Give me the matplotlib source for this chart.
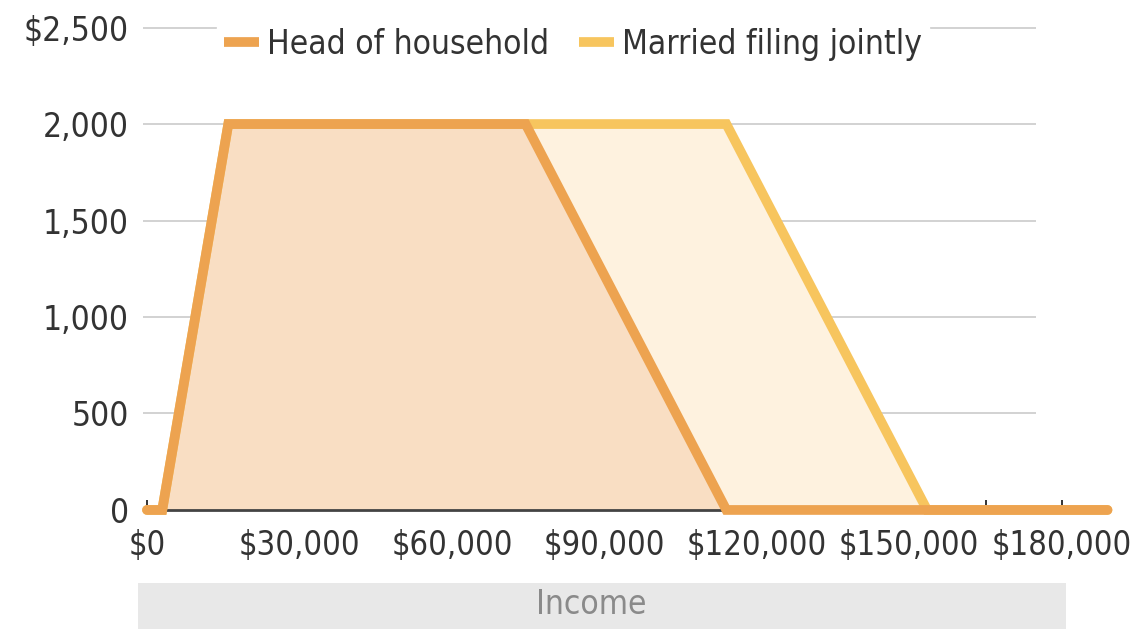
import matplotlib
matplotlib.use('Agg')
import matplotlib.pyplot as plt
from matplotlib.patches import Rectangle

plt.rcParams['font.family'] = ['DejaVu Sans']
plt.rcParams['font.stretch'] = 'condensed'

# data
income_hoh = [0, 3000, 16000, 74500, 114000, 189000]
credit_hoh = [0, 0, 2000, 2000, 0, 0]
income_mfj = [0, 3000, 16000, 114000, 153500, 189000]
credit_mfj = [0, 0, 2000, 2000, 0, 0]
xticks = [0, 30000, 60000, 90000, 120000, 150000, 180000]
xlabels = ['$0', '$30,000', '$60,000', '$90,000', '$120,000', '$150,000', '$180,000']
yticks = [0, 500, 1000, 1500, 2000, 2500]
ylabels = ['0', '500', '1,000', '1,500', '2,000', '$2,500']

c_hoh = '#EDA350'
c_mfj = '#F7C55E'
fill_hoh = '#F9DEC3'
fill_mfj = '#FEF2DF'

fig = plt.figure(figsize=(11.46, 6.29), dpi=100)
ax = fig.add_axes([140/1146, (629-520)/629, 980/1146, 510/629])
ax.set_xlim(-1377, 191460)
ax.set_ylim(-52, 2591)

for y in yticks[1:]:
    ax.hlines(y, -800, 175000, color='#cfcfcf', lw=1.3, zorder=1)

ax.fill_between(income_mfj, credit_mfj, color=fill_mfj, lw=0, zorder=2)
ax.fill_between(income_hoh, credit_hoh, color=fill_hoh, lw=0, zorder=3)
ax.plot(income_mfj, credit_mfj, color=c_mfj, lw=7, solid_joinstyle='miter',
        solid_capstyle='round', zorder=4, clip_on=False, label='Married filing jointly')
ax.plot(income_hoh, credit_hoh, color=c_hoh, lw=7, solid_joinstyle='miter',
        solid_capstyle='round', zorder=5, clip_on=False, label='Head of household')

for s in ['top', 'right', 'left']:
    ax.spines[s].set_visible(False)
ax.spines['bottom'].set_position(('data', 0))
ax.spines['bottom'].set_bounds(0, 180000)
ax.spines['bottom'].set_color('#444444')
ax.spines['bottom'].set_linewidth(2)
ax.spines['bottom'].set_zorder(3.5)

ax.set_xticks(xticks)
ax.set_xticklabels(xlabels)
ax.set_xticks(range(15000, 180000, 30000), minor=True)
ax.tick_params(axis='x', which='both', direction='in', length=7, width=1.4,
               color='#333333', pad=14, labelsize=23.5, labelcolor='#333333')
ax.set_yticks(yticks)
ax.set_yticklabels(ylabels)
ax.tick_params(axis='y', length=0, pad=8, labelsize=24, labelcolor='#333333')
for t in ax.xaxis.get_major_ticks() + ax.xaxis.get_minor_ticks():
    t.tick1line.set_zorder(10)

h, l = ax.get_legend_handles_labels()
leg = fig.legend(h[::-1], l[::-1], loc='center', bbox_to_anchor=(0.5, 0.93), ncol=2,
                 frameon=True, framealpha=1, edgecolor='white', fontsize=24,
                 handlelength=1.05, handletextpad=0.25, columnspacing=0.9,
                 borderpad=0.2)
for t in leg.get_texts():
    t.set_color('#333333')
for ln in leg.get_lines():
    ln.set_linewidth(7)
    ln.set_solid_capstyle('butt')

fig.patches.append(Rectangle((138/1146, 0), 928/1146, 46/629, transform=fig.transFigure,
                             facecolor='#E8E8E8', edgecolor='none'))
fig.text(591/1146, 24/629, 'Income', ha='center', va='center', fontsize=24, color='#8a8a8a')

fig.savefig('out.png', dpi=100)
